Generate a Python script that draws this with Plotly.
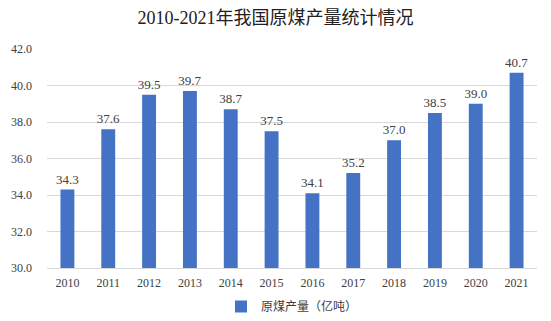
import plotly.graph_objects as go

years = ["2010", "2011", "2012", "2013", "2014", "2015", "2016", "2017", "2018", "2019", "2020", "2021"]
output = [34.3, 37.6, 39.5, 39.7, 38.7, 37.5, 34.1, 35.2, 37.0, 38.5, 39.0, 40.7]
series_name = "原煤产量（亿吨）"
title = "2010-2021年我国原煤产量统计情况"

font_family = "Liberation Serif, Noto Sans CJK SC, serif"

fig = go.Figure()
fig.add_trace(go.Bar(
    x=years, y=output, name=series_name,
    marker=dict(color="#4472C4", line=dict(width=0)),
    text=[f"{v:.1f}" for v in output], textposition="outside",
    constraintext="none",
    textfont=dict(size=13, color="#404040", family=font_family),
    cliponaxis=False,
))
fig.update_layout(
    width=551, height=321,
    margin=dict(l=47, r=14, t=49, b=53, autoexpand=False),
    paper_bgcolor="white", plot_bgcolor="white",
    title=dict(text=title, x=0.5, xanchor="center", y=0.945, yanchor="middle",
               font=dict(size=18, color="#202020", family=font_family)),
    font=dict(family=font_family, color="#404040", size=12),
    bargap=0.66,
    showlegend=True,
    legend=dict(orientation="h", x=0.5, xanchor="center", yref="container", y=0.0, yanchor="bottom",
                font=dict(size=12, color="#404040"), itemwidth=30),
    xaxis=dict(showgrid=False, showline=True, linecolor="#d9d9d9", linewidth=1,
               ticks="", ticklabelstandoff=4, tickfont=dict(size=12, color="#404040")),
    yaxis=dict(range=[30, 42], dtick=2, tickformat=".1f", showgrid=True,
               gridcolor="#d9d9d9", gridwidth=1, zeroline=False, showline=False,
               ticks="", ticklabelstandoff=14, tickfont=dict(size=12, color="#404040")),
)
fig.write_html("out.html")
